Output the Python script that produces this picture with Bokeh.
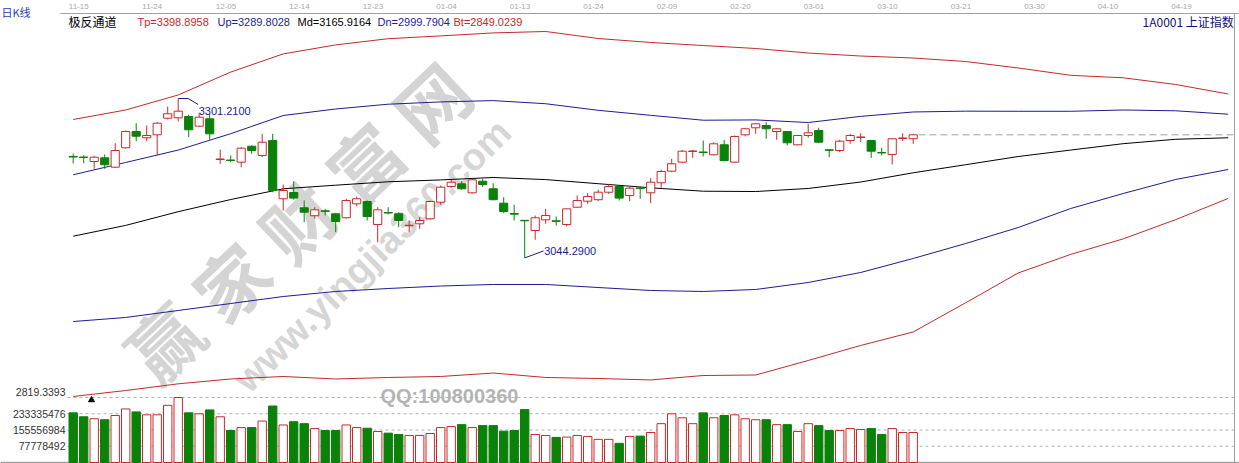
import numpy as np
from bokeh.plotting import figure
from bokeh.models import Range1d, Label
from bokeh.core.properties import value
from bokeh.embed import file_html
from bokeh.resources import INLINE

# ---------------- data ----------------
date_labels = ["11-15", "11-24", "12-05", "12-14", "12-23", "01-04", "01-13", "01-24",
               "02-09", "02-20", "03-01", "03-10", "03-21", "03-30", "04-10", "04-19"]
date_ticks = [0, 7, 14, 21, 28, 35, 42, 49, 56, 63, 70, 77, 84, 91, 98, 105]

opens = [3207.7, 3206.9, 3199.7, 3205.6, 3190.5, 3221.8, 3248.0, 3237.9, 3242.7, 3269.5,
         3270.1, 3272.2, 3256.6, 3268.5, 3202.9, 3202.1, 3198.6, 3224.3, 3209.4, 3233.5,
         3139.6, 3149.7, 3125.1, 3112.3, 3120.2, 3115.4, 3109.0, 3131.5, 3135.2, 3098.2,
         3117.5, 3115.4, 3096.1, 3099.3, 3107.3, 3134.1, 3159.4, 3163.7, 3149.2, 3167.9,
         3155.7, 3132.5, 3115.9, 3104.9, 3088.5, 3105.7, 3104.1, 3098.2, 3126.0, 3135.7,
         3138.1, 3150.2, 3159.4, 3144.9, 3157.0, 3149.2, 3165.4, 3184.1, 3198.6, 3215.8,
         3215.0, 3210.5, 3226.6, 3198.6, 3242.7, 3254.0, 3257.7, 3248.0, 3248.0, 3226.6,
         3241.6, 3249.6, 3218.5, 3217.4, 3233.5, 3238.4, 3233.5, 3214.2, 3211.0, 3236.8,
         3236.3]
highs = [3212.6, 3209.8, 3208.9, 3211.0, 3229.2, 3249.6, 3261.4, 3257.7, 3263.0, 3288.3,
         3301.21, 3274.9, 3277.5, 3276.6, 3219.0, 3209.4, 3222.7, 3225.5, 3244.3, 3244.3,
         3162.6, 3167.9, 3136.8, 3126.0, 3123.4, 3117.0, 3139.6, 3143.3, 3136.8, 3126.0,
         3126.0, 3118.0, 3104.6, 3110.2, 3136.8, 3161.0, 3170.2, 3167.9, 3171.8, 3171.8,
         3164.7, 3142.2, 3129.9, 3105.4, 3112.7, 3123.4, 3111.0, 3124.4, 3144.9, 3148.6,
         3154.1, 3163.7, 3161.0, 3159.4, 3159.4, 3172.8, 3186.3, 3204.0, 3218.5, 3218.5,
         3233.5, 3230.8, 3234.7, 3241.6, 3254.0, 3261.4, 3263.0, 3253.3, 3248.8, 3242.4,
         3260.4, 3254.0, 3219.0, 3234.7, 3244.3, 3245.3, 3234.3, 3221.8, 3237.2, 3245.3,
         3244.3]
lows = [3196.5, 3196.9, 3187.9, 3187.9, 3189.5, 3220.6, 3232.4, 3232.4, 3209.4, 3267.4,
        3264.2, 3239.0, 3255.3, 3234.7, 3196.0, 3198.6, 3190.5, 3212.1, 3206.6, 3150.2,
        3120.7, 3138.1, 3101.9, 3107.5, 3112.7, 3085.8, 3107.8, 3127.6, 3104.6, 3069.6,
        3114.3, 3093.8, 3085.8, 3091.2, 3105.7, 3129.9, 3157.3, 3154.1, 3148.1, 3158.3,
        3137.2, 3116.4, 3104.6, 3044.29, 3073.5, 3099.3, 3096.5, 3095.4, 3125.1, 3131.5,
        3135.7, 3147.6, 3136.8, 3135.7, 3139.6, 3132.5, 3157.3, 3182.4, 3197.4, 3205.6,
        3207.7, 3209.4, 3199.7, 3197.7, 3240.0, 3244.3, 3236.3, 3234.7, 3225.5, 3225.8,
        3237.9, 3229.2, 3206.6, 3214.8, 3228.2, 3230.8, 3205.6, 3209.4, 3194.8, 3232.4,
        3228.2]
closes = [3206.9, 3206.1, 3206.6, 3194.4, 3217.4, 3248.0, 3240.5, 3241.6, 3261.4, 3276.6,
          3280.8, 3250.8, 3271.1, 3244.3, 3203.7, 3201.3, 3221.1, 3217.4, 3230.8, 3153.0,
          3153.0, 3140.7, 3118.0, 3121.8, 3119.3, 3103.0, 3136.8, 3139.6, 3111.0, 3121.8,
          3116.7, 3104.6, 3096.9, 3104.6, 3135.2, 3158.3, 3166.3, 3155.7, 3170.2, 3162.6,
          3138.1, 3119.1, 3114.8, 3104.1, 3109.0, 3112.7, 3103.3, 3123.4, 3136.8, 3143.3,
          3150.2, 3159.4, 3140.7, 3156.7, 3156.2, 3166.3, 3183.6, 3196.0, 3216.3, 3216.6,
          3214.2, 3228.2, 3201.3, 3240.0, 3252.4, 3260.4, 3252.4, 3252.4, 3229.8, 3241.6,
          3245.9, 3230.8, 3217.7, 3232.4, 3241.6, 3239.2, 3216.3, 3213.5, 3236.3, 3237.6,
          3242.7]
# volume, millions
vol_m = [237.6, 218.8, 209.4, 204.7, 225.0, 256.4, 242.3, 228.2, 228.2, 273.6,
         311.113968, 237.6, 232.9, 251.7, 218.8, 153.0, 167.1, 167.1, 198.4, 270.4,
         179.6, 195.3, 185.9, 162.4, 153.0, 153.0, 179.6, 167.1, 164.0, 148.3,
         140.5, 134.2, 129.5, 129.5, 138.9, 167.1, 171.8, 181.2, 167.1, 176.5,
         176.5, 149.9, 153.0, 253.2, 134.2, 129.5, 120.1, 121.7, 129.5, 124.8,
         110.7, 110.7, 91.9, 124.8, 126.4, 143.6, 185.9, 232.9, 214.1, 185.9,
         237.6, 214.1, 225.0, 228.2, 209.4, 204.7, 204.7, 181.2, 181.2, 148.3,
         185.9, 176.5, 153.0, 153.0, 162.4, 157.7, 162.4, 134.2, 162.4, 143.6,
         143.6]

# channel lines (sampled every 5 sessions, incl. projected part)
line_x = list(range(0, 111, 5))
tp = [3267.4, 3282.7, 3306.9, 3343.8, 3373.1, 3387.6, 3397.6, 3402.1, 3406.9, 3409.2, 3397.9, 3391.5,
      3386.6, 3381.8, 3374.5, 3369.7, 3366.5, 3360.8, 3350.4, 3338.6, 3334.6, 3323.8, 3308.5]
up = [3178.3, 3198.1, 3218.1, 3244.5, 3273.8, 3284.3, 3292.0, 3295.7, 3297.8, 3292.8, 3282.2, 3274.1,
      3266.2, 3266.7, 3262.5, 3272.4, 3279.5, 3280.8, 3280.6, 3280.6, 3282.7, 3281.4, 3275.9]
md = [3079.3, 3096.7, 3118.8, 3138.4, 3155.7, 3161.5, 3167.0, 3170.0, 3173.9, 3170.5, 3163.9, 3157.3,
      3151.8, 3151.3, 3156.2, 3166.6, 3181.5, 3194.5, 3207.7, 3218.1, 3228.4, 3235.5, 3237.9]
dn = [2941.8, 2948.3, 2959.6, 2970.8, 2982.1, 2990.2, 2995.0, 2999.0, 3001.5, 3001.5, 2996.6, 2991.8,
      2990.2, 2993.4, 3004.7, 3020.8, 3043.4, 3067.5, 3093.3, 3123.9, 3148.1, 3170.7, 3186.8]
bt = [2821.0, 2830.6, 2841.4, 2849.2, 2853.2, 2849.2, 2851.6, 2853.2, 2858.8, 2851.6, 2850.0, 2847.6,
      2854.8, 2855.6, 2879.0, 2903.2, 2925.0, 2972.0, 3020.0, 3050.0, 3075.0, 3106.0, 3140.1]

header_vals = {"Tp": "3398.8958", "Up": "3289.8028", "Md": "3165.9164", "Dn": "2999.7904", "Bt": "2849.0239"}
price_floor_label = "2819.3393"
vol_ticks = [77778492, 155556984, 233335476, 311113968]

# ---------------- layout helpers (pixel -> data) ----------------
W, H = 1239, 463


def xd(px):
    return (px - 72.7) / 10.5


def yd(py):
    return 3459.15 - 1.6116 * py


RED = "#cc2828"
RED_L = "#c42a2a"
GREEN = "#0a820a"
NAVY = "#1c1c94"
GRAY = "#a0a0a0"

VOL_TOP = vol_ticks[-1]
VPX = VOL_TOP / (462 - 397)          # volume per pixel
vol_range = Range1d(-VPX * (H - 462), VPX * 462)

n = len(opens)
idx = np.arange(n)
o = np.array(opens); c = np.array(closes); h = np.array(highs); l = np.array(lows)
vol = np.array(vol_m) * 1e6
rising = c >= o
col = [RED if r else GREEN for r in rising]
fill = ["white" if r else GREEN for r in rising]

p = figure(width=W, height=H, x_range=Range1d(xd(0), xd(W)), y_range=Range1d(yd(H), yd(0)),
           output_backend="svg", toolbar_location=None,
           x_axis_type=None, y_axis_type=None, min_border=0,
           outline_line_color=None, background_fill_color="white", border_fill_color="white")
p.extra_y_ranges = {"vol": vol_range}

XL, XR = xd(67), xd(1234)

# watermark
wm_chars = "赢家财富网"
for k, ch in enumerate(wm_chars):
    p.add_layout(Label(x=xd(162 + 67 * k), y=yd(340 - 60 * k), text=ch, angle=0.757,
                       text_align="center", text_baseline="middle", text_font_size="72px",
                       text_font_style="bold", text_font="Noto Sans CJK SC",
                       text_color="#d4d4d4", level="underlay"))
p.add_layout(Label(x=xd(372), y=yd(255), text="www.yingjia360.com", angle=0.777,
                   text_align="center", text_baseline="middle", text_font_size="38px",
                   text_font_style="bold", text_font="Liberation Sans",
                   text_color="#d6d6d6", level="underlay"))
p.add_layout(Label(x=xd(380), y=yd(395), text="QQ:100800360", text_align="left",
                   text_baseline="middle", text_font_size="20px", text_font_style="bold",
                   text_font="Liberation Sans", text_color="#b4b4b4", level="underlay"))

# frame lines
p.line([xd(60), xd(W)], [yd(13), yd(13)], line_color=GRAY, line_width=1)
p.line([XR, XR], [yd(13), yd(462)], line_color=GRAY, line_width=1)
p.line([xd(0), xd(W)], [0, 0], y_range_name="vol", line_color=GRAY, line_width=1.5)

# dashed grid lines of the volume zone
p.segment(x0=[XL] * len(vol_ticks), y0=vol_ticks, x1=[XR] * len(vol_ticks), y1=vol_ticks,
          y_range_name="vol", line_color="#b0b0b0", line_dash="3 3", line_width=1)

# volume axis labels
p.text(x=[xd(65)] * 3, y=vol_ticks[:3], text=[str(v) for v in vol_ticks[:3]], y_range_name="vol",
       text_align="right", text_baseline="middle", text_font_size="10.5px",
       text_font=value("Liberation Sans"), text_color="#333333")
p.text(x=[xd(65)], y=[yd(391)], text=[price_floor_label], text_align="right", text_baseline="middle",
       text_font_size="10.5px", text_font=value("Liberation Sans"), text_color="#333333")

# date labels
p.text(x=np.array(date_ticks) - 0.42, y=[yd(6)] * len(date_ticks), text=date_labels,
       text_align="left", text_baseline="middle", text_font_size="8px",
       text_font=value("Liberation Sans"), text_color="#a8a8a8")

# volume bars
p.vbar(x=idx, width=0.8, bottom=0, top=vol, y_range_name="vol",
       fill_color=fill, line_color=col, line_width=1)

# channel lines
p.line(line_x, bt, line_color=RED_L, line_width=1)
p.line(line_x, dn, line_color=NAVY, line_width=1)
p.line(line_x, md, line_color="black", line_width=1)
p.line(line_x, up, line_color=NAVY, line_width=1)
p.line(line_x, tp, line_color=RED_L, line_width=1)

# last close dashed line
p.line([n - 1 + 0.5, XR], [c[-1], c[-1]], line_color=GRAY, line_dash="7 4", line_width=1)

# candles
p.segment(x0=idx, y0=l, x1=idx, y1=h, line_color=col, line_width=1)
p.vbar(x=idx, width=0.78, bottom=np.minimum(o, c), top=np.maximum(o, c),
       fill_color=fill, line_color=col, line_width=1)

# high / low markers
hi_i = int(np.argmax(h)); hi = h[hi_i]
lo_i = int(np.argmin(l)); lo = l[lo_i]
p.line([hi_i, hi_i + 0.95, hi_i + 1.9], [hi, hi, hi - 1.6116 * 6], line_color=NAVY, line_width=1)
p.text(x=[hi_i + 1.95], y=[hi - 1.6116 * 12], text=[f"{hi:.4f}"], text_align="left",
       text_baseline="middle", text_font_size="11px", text_font=value("Liberation Sans"),
       text_color=NAVY)
p.line([lo_i, lo_i + 1.8], [lo, lo + 1.6116 * 7], line_color=NAVY, line_width=1)
p.text(x=[lo_i + 1.85], y=[lo + 1.6116 * 7], text=[f"{lo:.4f}"], text_align="left",
       text_baseline="middle", text_font_size="11px", text_font=value("Liberation Sans"),
       text_color=NAVY)

# small triangle marker
p.scatter([xd(91)], [yd(399.5)], marker="triangle", size=6, color="black")

# header texts
p.text(x=[xd(1)], y=[yd(11)], text=["日K线"], text_align="left", text_baseline="middle",
       text_font_size="11px", text_font=value("Noto Sans CJK SC"), text_color="#2840c0")
p.text(x=[xd(68)], y=[yd(21)], text=["极反通道"], text_align="left", text_baseline="middle",
       text_font_size="12px", text_font=value("Noto Sans CJK SC"), text_color="black")
hdr_keys = ["Tp", "Up", "Md", "Dn", "Bt"]
hdr_px = [137, 217, 297, 377, 453]
hdr_col = [RED, NAVY, "black", NAVY, RED]
p.text(x=[xd(v) for v in hdr_px], y=[yd(21)] * 5,
       text=[f"{k}={header_vals[k]}" for k in hdr_keys], text_color=hdr_col,
       text_align="left", text_baseline="middle", text_font_size="11px",
       text_font=value("Liberation Sans"))
p.text(x=[xd(1236)], y=[yd(21)], text=["1A0001  上证指数"], text_align="right",
       text_baseline="middle", text_font_size="12px", text_font=value("Noto Sans CJK SC"),
       text_color="#101080")

open("out.html", "w").write(file_html(p, INLINE, title="上证指数"))
